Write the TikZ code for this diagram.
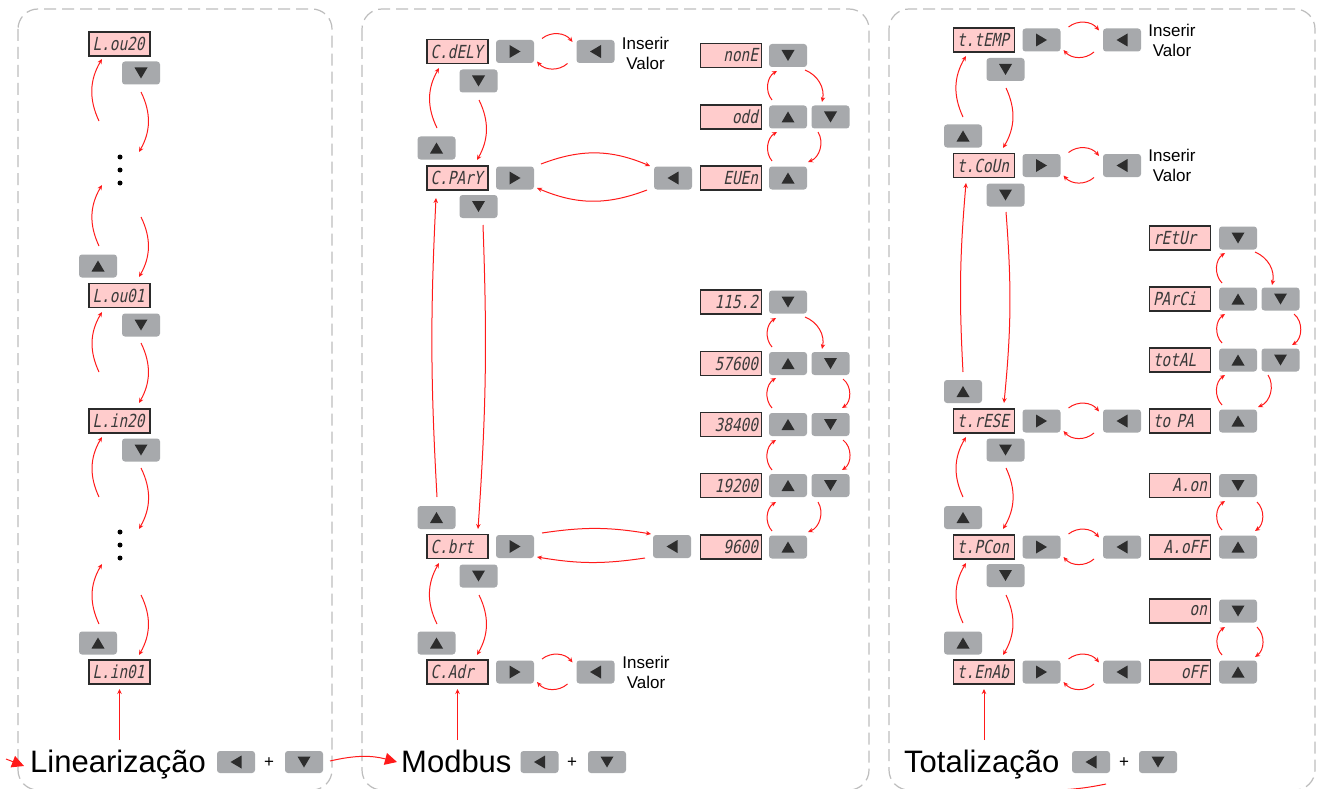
\documentclass[tikz,border=0pt]{standalone}
\usepackage{fontspec}
\setmainfont{Liberation Sans}
\newfontfamily\segfont[FakeSlant=0.2,FakeStretch=0.8]{DejaVu Sans Mono}
\usetikzlibrary{arrows.meta}
\definecolor{dispfill}{HTML}{FFCCCC}
\definecolor{displine}{HTML}{2B2B2B}
\definecolor{segtext}{HTML}{3A3A3A}
\definecolor{btnfill}{HTML}{A7A9AC}
\definecolor{trifill}{HTML}{2D2D2D}
\definecolor{arrred}{HTML}{FF1A1A}
\definecolor{panelcol}{HTML}{BDBDBD}
\tikzset{
  disp/.style={draw=displine, line width=1.1pt, fill=dispfill, minimum width=61pt, minimum height=24pt,
    inner sep=0pt, text width=54pt, font=\segfont\fontsize{18}{18}\selectfont, text=segtext},
  pname/.style={disp, align=left},
  pval/.style={disp, align=right},
  btn/.style={fill=btnfill, rounded corners=3pt, minimum width=38pt, minimum height=23pt, inner sep=0pt},
  bdown/.style={btn, path picture={\fill[trifill, sharp corners] ([shift={(-6.5pt,5.5pt)}]path picture bounding box.center) -- ++(13pt,0pt) -- ++(-6.5pt,-11pt) -- cycle;}},
  bup/.style={btn, path picture={\fill[trifill, sharp corners] ([shift={(-6.5pt,-5.5pt)}]path picture bounding box.center) -- ++(13pt,0pt) -- ++(-6.5pt,11pt) -- cycle;}},
  bright/.style={btn, path picture={\fill[trifill, sharp corners] ([shift={(-5.5pt,6.5pt)}]path picture bounding box.center) -- ++(0pt,-13pt) -- ++(11pt,6.5pt) -- cycle;}},
  bleft/.style={btn, path picture={\fill[trifill, sharp corners] ([shift={(5.5pt,6.5pt)}]path picture bounding box.center) -- ++(0pt,-13pt) -- ++(-11pt,6.5pt) -- cycle;}},
  dotn/.style={circle, fill=black, inner sep=0pt, minimum size=5pt},
  ttl/.style={anchor=base west, inner sep=0pt, font=\fontsize{31}{31}\selectfont},
  lbl/.style={align=center, inner sep=0pt, font=\fontsize{17}{20}\selectfont},
  plussign/.style={inner sep=0pt, font=\fontsize{17}{17}\selectfont},
  arr/.style={draw=arrred, line width=1pt, -{Stealth[length=5pt,width=4.5pt]}},
  bigarr/.style={draw=arrred, line width=1pt, -{Triangle[length=12pt,width=12pt]}},
  panelbox/.style={draw=panelcol, line width=1.2pt, dash pattern=on 12pt off 6pt, rounded corners=20pt},
}
\newcommand\pairarcs[2]{%
  \draw[arr] ([shift={(27,13)}]#1.center) to[bend left=45] ([shift={(-23,9.5)}]#2.center);
  \draw[arr] ([shift={(-28,-12)}]#2.center) to[bend left=45] ([shift={(22,-10)}]#1.center);}
\begin{document}
\begin{tikzpicture}[x=1pt,y=1pt]
\useasboundingbox (0,0) rectangle (1319,-789);
\fill[white] (0,0) rectangle (1319,-789);
% panels
\draw[panelbox] (18,-9) rectangle (332,-790);
\draw[panelbox] (362,-9) rectangle (869,-790);
\draw[panelbox] (889,-9) rectangle (1315,-790);

% ---------------- Linearizacao ----------------
\node[pname] (L1) at (119.5,-44) {L.ou20};
\node[bdown] (L1d) at (141,-73) {};
\node[dotn] (dA1) at (120,-157) {};
\node[dotn] (dA2) at (120,-170) {};
\node[dotn] (dA3) at (120,-183) {};
\node[bup] (L2u) at (98,-266) {};
\node[pname] (L2) at (119.5,-295.5) {L.ou01};
\node[bdown] (L2d) at (141,-325) {};
\node[pname] (L3) at (119.5,-421) {L.in20};
\node[bdown] (L3d) at (141,-450) {};
\node[dotn] (dB1) at (120,-532) {};
\node[dotn] (dB2) at (120,-545) {};
\node[dotn] (dB3) at (120,-558) {};
\node[bup] (L4u) at (98,-643) {};
\node[pname] (L4) at (119.5,-672) {L.in01};
\node[ttl] (T1) at (30,-772) {Linearização};
\node[bleft, minimum height=22pt] (K1a) at (236,-762) {};
\node[plussign] (P1) at (269,-763) {+};
\node[bdown, minimum height=22pt] (K1b) at (304,-762) {};

\draw[arr] ([shift={(-21,36)}]dA1.center) to[bend left=28] ([shift={(-17.5,-15)}]L1.center);
\draw[arr] ([shift={(0,-19)}]L1d.center) to[bend left=28] ([shift={(19,5)}]dA1.center);
\draw[arr] ([shift={(1,20)}]L2u.center) to[bend left=28] ([shift={(-18,-2)}]dA3.center);
\draw[arr] ([shift={(21,-34)}]dA3.center) to[bend left=28] ([shift={(19.5,18.5)}]L2.center);
\draw[arr] ([shift={(-20.5,49)}]L3.center) to[bend left=28] ([shift={(-17.5,-16.5)}]L2.center);
\draw[arr] ([shift={(0,-18)}]L2d.center) to[bend left=28] ([shift={(19.5,18)}]L3.center);
\draw[arr] ([shift={(-21,35)}]dB1.center) to[bend left=28] ([shift={(-17.5,-16)}]L3.center);
\draw[arr] ([shift={(0,-18)}]L3d.center) to[bend left=28] ([shift={(19,3)}]dB1.center);
\draw[arr] ([shift={(1,19)}]L4u.center) to[bend left=28] ([shift={(-18,-6)}]dB3.center);
\draw[arr] ([shift={(21,-37)}]dB3.center) to[bend left=28] ([shift={(19.5,17)}]L4.center);
\draw[arr] ([shift={(89.5,32)}]T1.base west) -- ([shift={(0,-17)}]L4.center);
\coordinate (inL) at (6,-759);
\draw[bigarr] (inL) -- ([shift={(-6,6)}]T1.base west);

% ---------------- Modbus ----------------
\node[pname] (M1) at (457.5,-51.5) {C.dELY};
\node[bright] (M1r) at (515,-51.5) {};
\node[bleft] (M1l) at (595.5,-51.5) {};
\node[lbl] (M1t) at (645.5,-53) {Inserir\\Valor};
\node[bdown] (M1d) at (478.5,-81) {};
\node[bup] (M2u) at (436.5,-148) {};
\node[pname] (M2) at (457.5,-178) {C.PArY};
\node[bright] (M2r) at (515,-178) {};
\node[bleft] (M2l) at (673,-178) {};
\node[bdown] (M2d) at (478.5,-206.5) {};
\node[bup] (M3u) at (436.5,-517.5) {};
\node[pname] (M3) at (457.5,-546.5) {C.brt};
\node[bright] (M3r) at (515,-546.5) {};
\node[bleft] (M3l) at (672,-546.5) {};
\node[bdown] (M3d) at (478.5,-576) {};
\node[bup] (M4u) at (436.5,-643) {};
\node[pname] (M4) at (457.5,-672) {C.Adr};
\node[bright] (M4r) at (515,-672) {};
\node[bleft] (M4l) at (595.5,-672) {};
\node[lbl] (M4t) at (646,-672.5) {Inserir\\Valor};
\node[ttl] (T2) at (401,-772) {Modbus};
\node[bleft, minimum height=22pt] (K2a) at (539.5,-762) {};
\node[plussign] (P2) at (572,-763) {+};
\node[bdown, minimum height=22pt] (K2b) at (607,-762) {};

% parity values
\node[pval] (V1) at (731,-55.5) {nonE};
\node[bdown] (V1d) at (788,-55.5) {};
\node[pval] (V2) at (731,-117) {odd};
\node[bup] (V2u) at (788,-117) {};
\node[bdown] (V2d) at (830.5,-117) {};
\node[pval] (V3) at (731,-178) {EUEn};
\node[bup] (V3u) at (788,-178) {};
% baud values
\node[pval] (B1) at (731,-302) {115.2};
\node[bdown] (B1d) at (788,-302) {};
\node[pval] (B2) at (731,-363.5) {57600};
\node[bup] (B2u) at (788,-363.5) {};
\node[bdown] (B2d) at (830.5,-363.5) {};
\node[pval] (B3) at (731,-424.5) {38400};
\node[bup] (B3u) at (788,-424.5) {};
\node[bdown] (B3d) at (830.5,-424.5) {};
\node[pval] (B4) at (731,-485.5) {19200};
\node[bup] (B4u) at (788,-485.5) {};
\node[bdown] (B4d) at (830.5,-485.5) {};
\node[pval] (B5) at (731,-547) {9600};
\node[bup] (B5u) at (788,-547) {};

\draw[arr] ([shift={(0.5,20)}]M2u.center) to[bend left=28] ([shift={(-18.5,-16.5)}]M1.center);
\draw[arr] ([shift={(0.5,-19)}]M1d.center) to[bend left=28] ([shift={(19.5,18)}]M2.center);
\pairarcs{M1r}{M1l}
\draw[arr] ([shift={(26,14)}]M2r.center) to[bend left=22] ([shift={(-23,12)}]M2l.center);
\draw[arr] ([shift={(-26,-12)}]M2l.center) to[bend left=22] ([shift={(22,-10)}]M2r.center);
\draw[arr] ([shift={(4.5,-18.5)}]M2d.center) to[bend left=3] ([shift={(20.5,17.5)}]M3.center);
\draw[arr] ([shift={(0.5,20.5)}]M3u.center) to[bend left=3] ([shift={(-21.5,-20)}]M2.center);
\draw[arr] ([shift={(27,13.5)}]M3r.center) to[bend left=9] ([shift={(-21,12.5)}]M3l.center);
\draw[arr] ([shift={(-27,-11.5)}]M3l.center) to[bend left=9] ([shift={(22,-10.5)}]M3r.center);
\draw[arr] ([shift={(0.5,-19)}]M3d.center) to[bend left=28] ([shift={(19.5,17)}]M4.center);
\draw[arr] ([shift={(0.5,19)}]M4u.center) to[bend left=28] ([shift={(-18.5,-16.5)}]M3.center);
\pairarcs{M4r}{M4l}
\draw[arr] ([shift={(56.5,32)}]T2.base west) -- ([shift={(0,-17)}]M4.center);
\draw[bigarr] ([shift={(26,1)}]K1b.center) to[bend left=14] ([shift={(-4,10)}]T2.base west);

\draw[arr] ([shift={(-16,17)}]V2u.center) to[bend left=50] ([shift={(-11,-15.5)}]V1d.center);
\draw[arr] ([shift={(17,-14.5)}]V1d.center) to[bend left=40] ([shift={(-8.5,15)}]V2d.center);
\draw[arr] ([shift={(-16,17)}]V3u.center) to[bend left=50] ([shift={(-11,-15)}]V2u.center);
\draw[arr] ([shift={(-12.5,-15)}]V2d.center) to[bend left=50] ([shift={(20,16)}]V3u.center);

\draw[arr] ([shift={(-16,16.5)}]B2u.center) to[bend left=50] ([shift={(-12,-16)}]B1d.center);
\draw[arr] ([shift={(17,-15)}]B1d.center) to[bend left=40] ([shift={(-8.5,14.5)}]B2d.center);
\draw[arr] ([shift={(-16,16.5)}]B3u.center) to[bend left=50] ([shift={(-12,-14.5)}]B2u.center);
\draw[arr] ([shift={(12.5,-15.5)}]B2d.center) to[bend left=55] ([shift={(11.5,16.5)}]B3d.center);
\draw[arr] ([shift={(-16,15.5)}]B4u.center) to[bend left=50] ([shift={(-12,-15.5)}]B3u.center);
\draw[arr] ([shift={(12.5,-15.5)}]B3d.center) to[bend left=55] ([shift={(11.5,15.5)}]B4d.center);
\draw[arr] ([shift={(-16,16)}]B5u.center) to[bend left=50] ([shift={(-12,-16.5)}]B4u.center);
\draw[arr] ([shift={(-12.5,-16.5)}]B4d.center) to[bend left=50] ([shift={(20,15)}]B5u.center);

% ---------------- Totalizacao ----------------
\node[pname] (R1) at (984,-40) {t.tEMP};
\node[bright] (R1r) at (1041.5,-40) {};
\node[bleft] (R1l) at (1122,-40) {};
\node[lbl] (R1t) at (1172,-40) {Inserir\\Valor};
\node[bdown] (R1d) at (1005.5,-69.5) {};
\node[bup] (R2u) at (963,-136) {};
\node[pname] (R2) at (984,-165.5) {t.CoUn};
\node[bright] (R2r) at (1041.5,-165.5) {};
\node[bleft] (R2l) at (1122,-165.5) {};
\node[lbl] (R2t) at (1172,-165.5) {Inserir\\Valor};
\node[bdown] (R2d) at (1005.5,-195) {};
\node[bup] (R3u) at (963,-391.5) {};
\node[pname] (R3) at (984,-421) {t.rESE};
\node[bright] (R3r) at (1041.5,-421) {};
\node[bleft] (R3l) at (1122,-421) {};
\node[bdown] (R3d) at (1005.5,-450) {};
\node[bup] (R4u) at (963,-517.5) {};
\node[pname] (R4) at (984,-547) {t.PCon};
\node[bright] (R4r) at (1041.5,-547) {};
\node[bleft] (R4l) at (1122,-547) {};
\node[bdown] (R4d) at (1005.5,-575.5) {};
\node[bup] (R5u) at (963,-643) {};
\node[pname] (R5) at (984,-672) {t.EnAb};
\node[bright] (R5r) at (1041.5,-672) {};
\node[bleft] (R5l) at (1122,-672) {};
\node[ttl] (T3) at (904,-772) {Totalização};
\node[bleft, minimum height=22pt] (K3a) at (1091,-762) {};
\node[plussign] (P3) at (1124,-763) {+};
\node[bdown, minimum height=22pt] (K3b) at (1158,-762) {};

\node[pname] (X1) at (1180,-238) {rEtUr};
\node[bdown] (X1d) at (1238,-238) {};
\node[pname] (X2) at (1180,-299) {PArCi};
\node[bup] (X2u) at (1238,-299) {};
\node[bdown] (X2d) at (1280.5,-299) {};
\node[pname] (X3) at (1180,-360) {totAL};
\node[bup] (X3u) at (1238,-360) {};
\node[bdown] (X3d) at (1280.5,-360) {};
\node[pname] (X4) at (1180,-421) {to PA};
\node[bup] (X4u) at (1238,-421) {};
\node[pval] (Y1) at (1180,-485.5) {A.on};
\node[bdown] (Y1d) at (1238,-485.5) {};
\node[pval] (Y2) at (1180,-547) {A.oFF};
\node[bup] (Y2u) at (1238,-547) {};
\node[pval] (Z1) at (1180,-611) {on};
\node[bdown] (Z1d) at (1238,-611) {};
\node[pval] (Z2) at (1180,-672) {oFF};
\node[bup] (Z2u) at (1238,-672) {};

\draw[arr] ([shift={(0,19)}]R2u.center) to[bend left=28] ([shift={(-18,-16)}]R1.center);
\draw[arr] ([shift={(0.5,-18.5)}]R1d.center) to[bend left=28] ([shift={(19,17.5)}]R2.center);
\pairarcs{R1r}{R1l}
\pairarcs{R2r}{R2l}
\draw[arr] ([shift={(0,19.5)}]R3u.center) to[bend left=4] ([shift={(-18,-17.5)}]R2.center);
\draw[arr] ([shift={(0.5,-17)}]R2d.center) to[bend left=5] ([shift={(20,18)}]R3.center);
\pairarcs{R3r}{R3l}
\draw[arr] ([shift={(0,20.5)}]R4u.center) to[bend left=28] ([shift={(-18,-16)}]R3.center);
\draw[arr] ([shift={(0.5,-18)}]R3d.center) to[bend left=28] ([shift={(19,18)}]R4.center);
\pairarcs{R4r}{R4l}
\draw[arr] ([shift={(0,20)}]R5u.center) to[bend left=28] ([shift={(-18,-16)}]R4.center);
\draw[arr] ([shift={(0.5,-19.5)}]R4d.center) to[bend left=28] ([shift={(19,17)}]R5.center);
\pairarcs{R5r}{R5l}
\draw[arr] ([shift={(80,32)}]T3.base west) -- ([shift={(0,-17)}]R5.center);

\draw[arr] ([shift={(17,-14)}]X1d.center) to[bend left=40] ([shift={(-8.5,14)}]X2d.center);
\draw[arr] ([shift={(-16,16)}]X2u.center) to[bend left=50] ([shift={(-13,-15)}]X1d.center);
\draw[arr] ([shift={(-16,17)}]X3u.center) to[bend left=50] ([shift={(-13,-15)}]X2u.center);
\draw[arr] ([shift={(13.5,-15)}]X2d.center) to[bend left=55] ([shift={(11.5,15)}]X3d.center);
\draw[arr] ([shift={(-16,16)}]X4u.center) to[bend left=50] ([shift={(-13,-15)}]X3u.center);
\draw[arr] ([shift={(-12.5,-15)}]X3d.center) to[bend left=50] ([shift={(20,14)}]X4u.center);
\draw[arr] ([shift={(-16,17)}]Y2u.center) to[bend left=50] ([shift={(-13,-15.5)}]Y1d.center);
\draw[arr] ([shift={(19,-16.5)}]Y1d.center) to[bend left=50] ([shift={(17,16)}]Y2u.center);
\draw[arr] ([shift={(-16,17)}]Z2u.center) to[bend left=50] ([shift={(-13,-16)}]Z1d.center);
\draw[arr] ([shift={(19,-16)}]Z1d.center) to[bend left=50] ([shift={(17,15)}]Z2u.center);

\coordinate (tl1) at (1106,-784);
\coordinate (tl2) at (1060,-790);
\draw[draw=arrred, line width=1pt] (tl1) to[bend left=4] (tl2);
\end{tikzpicture}
\end{document}
